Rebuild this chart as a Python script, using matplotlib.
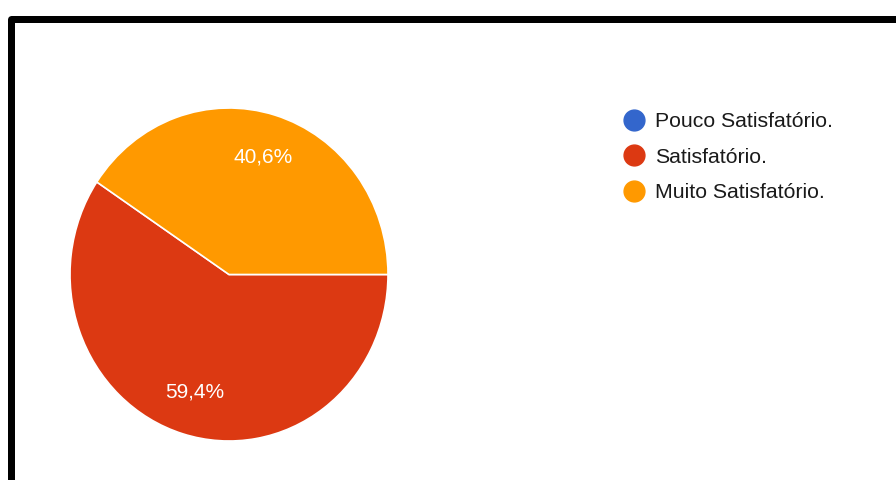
import matplotlib
matplotlib.use("Agg")
import matplotlib.pyplot as plt
from matplotlib.lines import Line2D
from matplotlib.patches import Rectangle

# answers (count of respondents per option)
categories = ["Pouco Satisfatório.", "Satisfatório.", "Muito Satisfatório."]
counts = [0, 19, 13]
colors = ["#3366CC", "#DC3912", "#FF9900"]

plt.rcParams['font.family'] = ['Liberation Sans', 'DejaVu Sans']

W, H = 896, 480
fig = plt.figure(figsize=(W / 100, H / 100), dpi=100)
fig.patch.set_facecolor("white")

# black frame (top + left visible, the rest runs off the picture)
fig.patches.append(Rectangle((10.5 / W, -0.5), 2.0, 1.5 - 18.5 / H,
                             transform=fig.transFigure, fill=False,
                             edgecolor="black", linewidth=7 * 0.72,
                             joinstyle="round"))

# pie axes, placed in pixels
left, right, top, bottom = 70, 388, 108, 441
ax = fig.add_axes([left / W, 1 - bottom / H, (right - left) / W, (bottom - top) / H])


def fmt(p):
    return (f"{p:.1f}%".replace(".", ",")) if p > 0 else ""


wedges, texts, autotexts = ax.pie(
    counts, colors=colors, startangle=0, counterclock=False,
    autopct=fmt, pctdistance=0.74,
    wedgeprops=dict(edgecolor="white", linewidth=1.2),
    textprops=dict(color="white", fontsize=15))
ax.set_aspect("auto")
ax.set_xlim(-1, 1)
ax.set_ylim(-1, 1)
ax.axis("off")

handles = [Line2D([], [], marker="o", linestyle="none", markersize=15,
                  markerfacecolor=c, markeredgecolor=c) for c in colors]
fig.legend(handles, categories, loc="upper left",
           bbox_to_anchor=(623.5 / W, 1 - 112 / H), frameon=False,
           fontsize=15.3, handlelength=1.0, handletextpad=0.5,
           borderpad=0, borderaxespad=0, labelspacing=0.78,
           labelcolor="#1a1a1a")

fig.savefig("out.png", dpi=100, facecolor="white")
